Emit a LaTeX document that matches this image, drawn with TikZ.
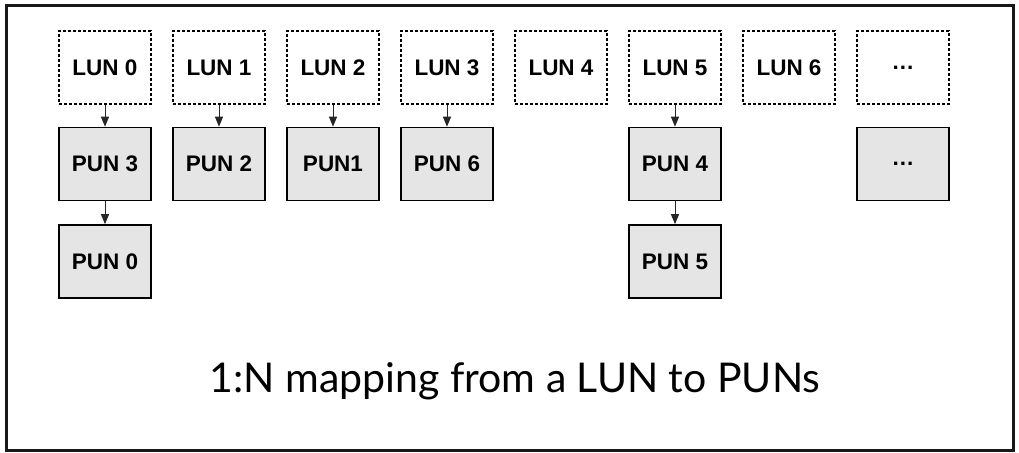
\documentclass[tikz,border=0pt]{standalone}
\usepackage{fontspec}
\setmainfont{Liberation Sans}
\newfontfamily\captionfont{Lato}
\usetikzlibrary{arrows.meta}
\begin{document}
\begin{tikzpicture}[x=1pt,y=-1pt,
  unitbox/.style={rectangle,minimum width=92pt,minimum height=73pt,inner sep=0pt,
    font=\fontsize{22.5}{26}\selectfont\bfseries},
  lunbox/.style={unitbox,draw=black,line width=1.6pt,dash pattern=on 3pt off 2pt,fill=white},
  punbox/.style={unitbox,draw=black,line width=1.6pt,fill=black!10},
  maparrow/.style={draw=black!85,line width=1pt,-{Triangle[length=10pt,width=8pt]}}]
\useasboundingbox (0,0) rectangle (1019,452);
\draw[line width=3pt,draw=black!90] (6,5.5) rectangle (1013,450);
% logical units
\foreach \i in {0,1,2,3,4,5,6}
  \node[lunbox] (lun\i) at ({105+114*\i},67.5) {LUN \i};
\node[lunbox] (lun7) at (903,67.5) {.\kern1pt.\kern1pt.};
% physical units
\node[punbox] (p3) at (105,164) {PUN 3};
\node[punbox] (p2) at (219,164) {PUN 2};
\node[punbox] (p1) at (333,164) {PUN1};
\node[punbox] (p6) at (447,164) {PUN 6};
\node[punbox] (p4) at (675,164) {PUN 4};
\node[punbox] (pd) at (903,164) {.\kern1pt.\kern1pt.};
\node[punbox] (p0) at (105,261.5) {PUN 0};
\node[punbox] (p5) at (675,261.5) {PUN 5};
% mappings
\draw[maparrow] (lun0) -- (p3);
\draw[maparrow] (lun1) -- (p2);
\draw[maparrow] (lun2) -- (p1);
\draw[maparrow] (lun3) -- (p6);
\draw[maparrow] (lun5) -- (p4);
\draw[maparrow] (p3) -- (p0);
\draw[maparrow] (p4) -- (p5);
\node[font=\captionfont\fontsize{41}{47}\selectfont,anchor=base] (cap) at (515,392) {1:N mapping from a LUN to PUNs};
\end{tikzpicture}
\end{document}
